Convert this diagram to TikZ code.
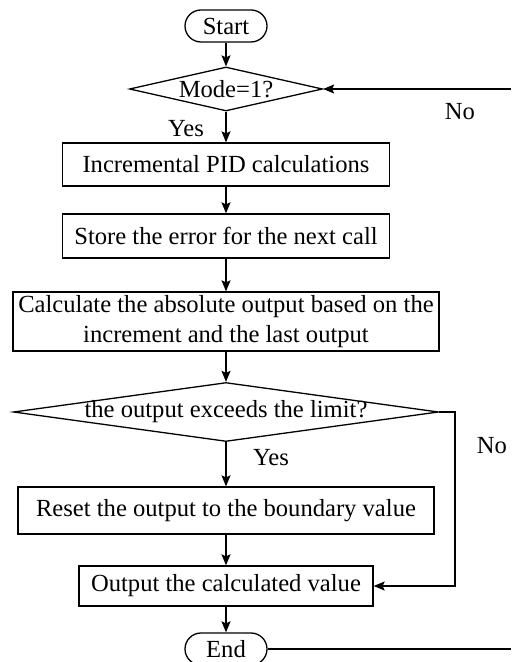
\documentclass[tikz,border=0pt]{standalone}
\usepackage{fontspec}
\setmainfont{Liberation Serif}
\usetikzlibrary{shapes.geometric,arrows.meta}

\begin{document}
\begin{tikzpicture}[x=0.5pt,y=-0.5pt,
        font=\fontsize{12.3}{15}\selectfont,
        line width=0.65pt,
        process/.style={draw,rectangle,inner sep=0pt,align=center},
        terminal/.style={draw,rectangle,rounded corners=8pt,inner sep=0pt,
            minimum width=41pt,minimum height=16pt},
        decision/.style={draw,diamond,inner sep=0pt},
        flow/.style={-{Stealth[length=5.5pt,width=4.5pt,inset=1pt]}}]
        \useasboundingbox (0,0) rectangle (511,662);
        %% Main column
        \node[terminal] (start) at (226,26) {Start};
        \node[decision,minimum width=96.5pt,minimum height=22pt] (mode) at (226,89) {};
        \node (modetext) at (mode.center) {Mode=1?};
        \node[process,minimum width=163.5pt,minimum height=21.5pt] (pid) at (226,164.5)
            {Incremental PID calculations};
        \node[process,minimum width=163.5pt,minimum height=22pt] (store) at (226,236)
            {Store the error for the next call};
        \node[process,minimum width=213pt,minimum height=29.5pt] (absolute) at (226,321.5)
            {Calculate the absolute output based on the\\increment and the last output};
        \node[decision,minimum width=212.5pt,minimum height=29.5pt] (limit) at (226,412) {};
        \node (limittext) at (limit.center) {the output exceeds the limit?};
        \node[process,minimum width=208pt,minimum height=23.5pt] (reset) at (226,510.5)
            {Reset the output to the boundary value};
        \node[process,minimum width=147pt,minimum height=20pt] (outval) at (226,586)
            {Output the calculated value};
        \node[terminal] (stop) at (226,649) {End};
        %% Labels
        \node (yesmode) at (186,129) {Yes};
        \node (nomode) at (460,112) {No};
        \node (yeslimit) at (271,458) {Yes};
        \node (nolimit) at (492,446) {No};
        %% Connectors
        \draw[flow] (start) to (mode);
        \draw[flow] (mode) to (pid);
        \draw[flow] (pid) to (store);
        \draw[flow] (store) to (absolute);
        \draw[flow] (absolute) to (limit);
        \draw[flow] (limit) to (reset);
        \draw[flow] (reset) to (outval);
        \draw[flow] (outval) to (stop);
        \coordinate (noturn) at (455,412);
        \draw[flow] (limit.east) -- (noturn) |- (outval.east);
        \coordinate (endedge) at (511,649);
        \draw (stop.east) -- (endedge);
        \coordinate (topedge) at (511,89);
        \draw[flow] (topedge) -- (mode.east);
    \end{tikzpicture}
\end{document}
